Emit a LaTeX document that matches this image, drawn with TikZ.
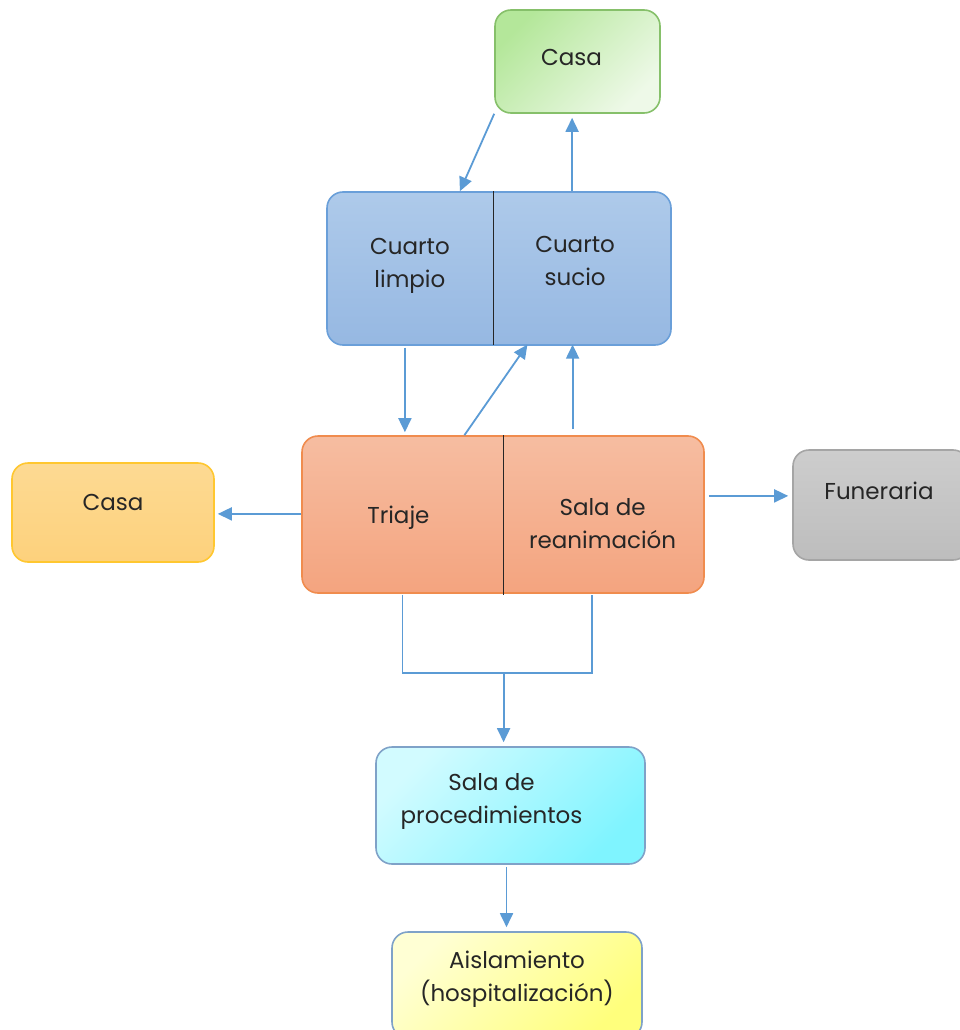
\documentclass[tikz,border=0pt]{standalone}
\usepackage{fontspec}
\setmainfont{Poppins}
\usetikzlibrary{arrows.meta}

\definecolor{txt}{HTML}{262626}
\definecolor{linkblue}{HTML}{5B9BD5}
\definecolor{greenA}{HTML}{B4E79A}
\definecolor{greenB}{HTML}{EEF9E8}
\definecolor{greenD}{HTML}{86C06A}
\definecolor{blueA}{HTML}{AECAEA}
\definecolor{blueB}{HTML}{96B8E2}
\definecolor{blueD}{HTML}{6A9FD9}
\definecolor{orangeA}{HTML}{F6BDA1}
\definecolor{orangeB}{HTML}{F4A47F}
\definecolor{orangeD}{HTML}{F08C4E}
\definecolor{goldA}{HTML}{FDDA93}
\definecolor{goldB}{HTML}{FDD17C}
\definecolor{goldD}{HTML}{FFC730}
\definecolor{greyA}{HTML}{CDCDCD}
\definecolor{greyB}{HTML}{BDBDBD}
\definecolor{greyD}{HTML}{A5A5A5}
\definecolor{cyanA}{HTML}{D2FBFF}
\definecolor{cyanB}{HTML}{7FF4FF}
\definecolor{yellowA}{HTML}{FFFFD4}
\definecolor{yellowB}{HTML}{FFFF7C}
\definecolor{slateD}{HTML}{7FA2C8}

\tikzset{
  room/.style={rounded corners=16pt, line width=1.6pt, inner sep=0pt},
  half/.style={inner sep=0pt},
  label text/.style={inner sep=0pt, align=center, text=txt,
    font=\fontsize{23}{33}\selectfont},
  link/.style={line width=1.8pt, linkblue},
  arr/.style={link, -{Triangle[length=14pt,width=13pt]}}
}

\begin{document}
\begin{tikzpicture}[x=1pt,y=-1pt]
  \useasboundingbox (0,0) rectangle (959,1030);

  % top house
  \node[room, draw=greenD, top color=greenA, bottom color=greenB, shading angle=45,
    minimum width=165, minimum height=103] (casaTop) at (577.5,61.5) {};
  \node[label text] (casaTopTxt) at ([xshift=-6,yshift=4]casaTop.center) {Casa};

  % rooms (clean / dirty)
  \node[room, draw=blueD, top color=blueA, bottom color=blueB,
    minimum width=344, minimum height=153] (cuartos) at (499,268.5) {};
  \node[half, anchor=north west, minimum width=167, minimum height=153]
    (limpio) at (cuartos.north west) {};
  \node[half, anchor=north east, minimum width=177, minimum height=153]
    (sucio) at (cuartos.north east) {};
  \node[label text] (limpioTxt) at ([yshift=2]limpio.center) {Cuarto\\limpio};
  \node[label text] (sucioTxt) at ([xshift=-8,yshift=7]sucio.center) {Cuarto\\sucio};
  \draw[line width=1.6pt, black!85] (limpio.north east) -- (limpio.south east);

  % emergency (triage / resuscitation)
  \node[room, draw=orangeD, top color=orangeA, bottom color=orangeB,
    minimum width=402, minimum height=157] (urgencias) at (503,514.5) {};
  \node[half, anchor=north west, minimum width=202, minimum height=157]
    (triaje) at (urgencias.north west) {};
  \node[half, anchor=north east, minimum width=200, minimum height=157]
    (reanim) at (urgencias.north east) {};
  \node[label text] (triajeTxt) at ([xshift=-4,yshift=-4]triaje.center) {Triaje};
  \node[label text] (reanimTxt) at ([xshift=-2,yshift=-10]reanim.center) {Sala de\\reanimación};
  \draw[line width=1.6pt, black!85] (triaje.north east) -- ([yshift=-2]triaje.south east);

  % side boxes
  \node[room, draw=goldD, top color=goldA, bottom color=goldB,
    minimum width=202, minimum height=99] (casaLeft) at (113,512.5) {};
  \node[label text] (casaLeftTxt) at ([yshift=10]casaLeft.center) {Casa};
  \node[room, draw=greyD, top color=greyA, bottom color=greyB,
    minimum width=176, minimum height=110] (funeraria) at (881,505) {};
  \node[label text] (funerariaTxt) at ([xshift=-2,yshift=14]funeraria.center) {Funeraria};

  % bottom boxes
  \node[room, draw=slateD, top color=cyanA, bottom color=cyanB, shading angle=45,
    minimum width=269, minimum height=117] (proc) at (510.5,805.5) {};
  \node[label text] (procTxt) at ([xshift=-19,yshift=4]proc.center) {Sala de\\procedimientos};
  \node[room, draw=slateD, top color=yellowA, bottom color=yellowB, shading angle=45,
    minimum width=250, minimum height=106] (aisl) at (517,985) {};
  \node[label text] (aislTxt) at ([yshift=6]aisl.center) {Aislamiento\\(hospitalización)};

  % arrows between top house and rooms
  \draw[arr] (casaTop.south west) -- ([xshift=50]limpio.north);
  \draw[arr] ([xshift=-11]sucio.north) -- ([xshift=-11,yshift=-4]sucio.north |- casaTop.south);

  % arrows between rooms and emergency
  \draw[arr] ([xshift=-5,yshift=-3]limpio.south) -- ([xshift=-5,yshift=3]limpio.south |- triaje.north);
  \draw[arr] ([xshift=62]triaje.north) -- ([xshift=33]sucio.south west);
  \draw[arr] ([xshift=-32,yshift=6]reanim.north) -- ([xshift=-32]reanim.north |- sucio.south);

  % arrows to side boxes
  \draw[arr] (triaje.west) -- ([xshift=3]triaje.west -| casaLeft.east);
  \draw[arr] ([xshift=4,yshift=18]reanim.east) -- ([xshift=-4,yshift=18]reanim.east -| funeraria.west);

  % joined lines down to procedures
  \coordinate (join) at ([yshift=-80]triaje.south east);
  \draw[link] ([yshift=-2]triaje.south) |- (join) -| ([xshift=-13,yshift=-2]reanim.south);
  \draw[arr] (join) -- ([yshift=4]join |- proc.north);
  \draw[arr] ([xshift=-4,yshift=-2]proc.south) -- ([xshift=-4,yshift=4]proc.south |- aisl.north);
\end{tikzpicture}
\end{document}
